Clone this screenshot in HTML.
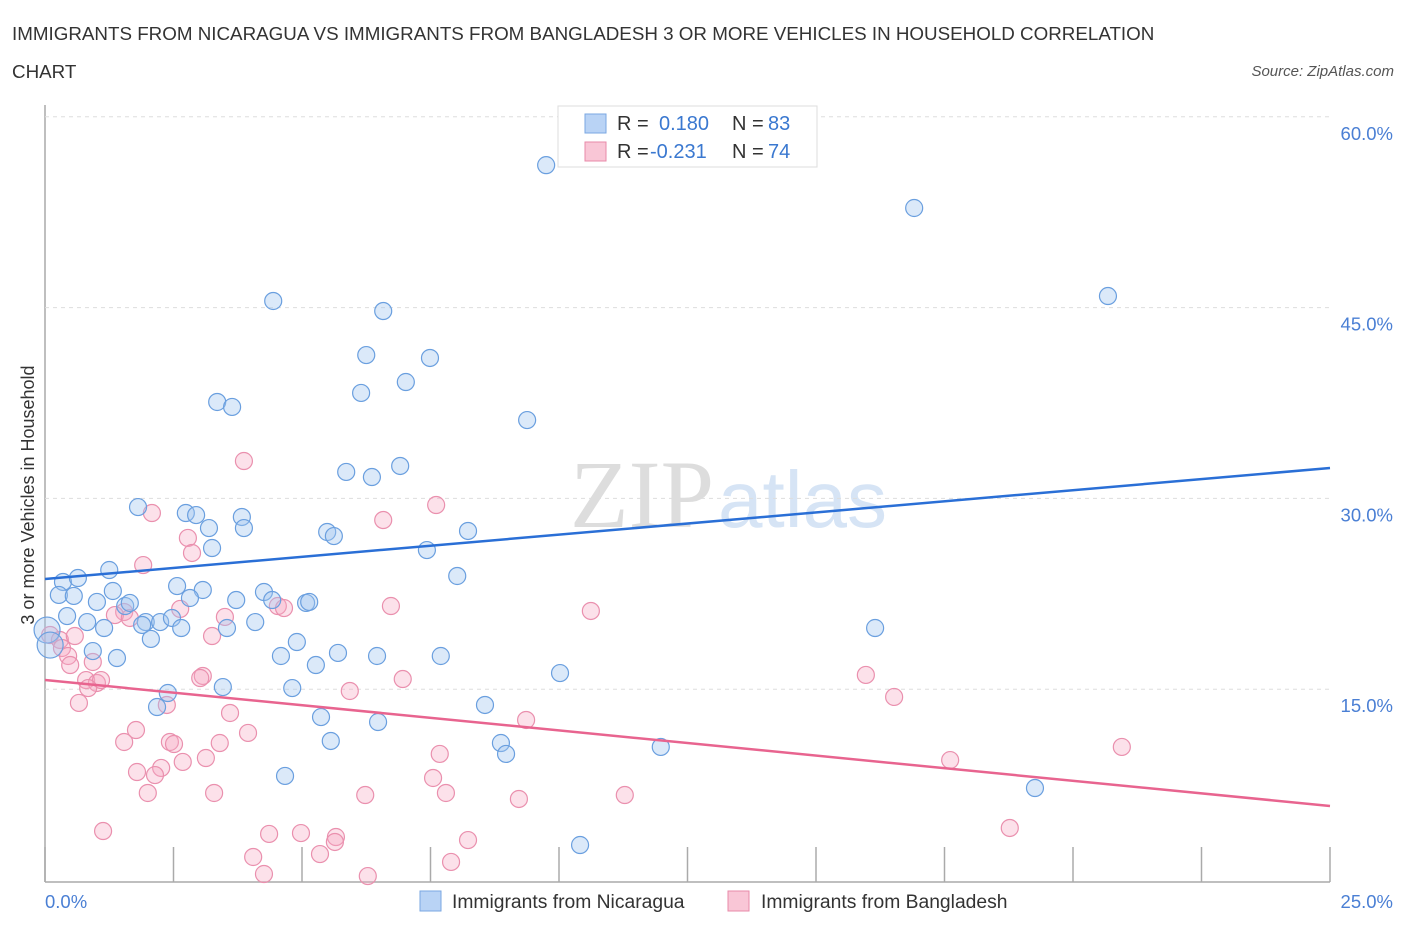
<!DOCTYPE html>
<html><head><meta charset="utf-8"><style>
body{margin:0;background:#fff;font-family:"Liberation Sans",sans-serif;}
</style></head><body>
<svg id="c" width="1406" height="930" xmlns="http://www.w3.org/2000/svg">
<text x="12" y="40" font-size="18.8" fill="#333">IMMIGRANTS FROM NICARAGUA VS IMMIGRANTS FROM BANGLADESH 3 OR MORE VEHICLES IN HOUSEHOLD CORRELATION</text>
<text x="12" y="78" font-size="18.8" fill="#333">CHART</text>
<text x="1394" y="76" font-size="15" fill="#555" font-style="italic" text-anchor="end">Source: ZipAtlas.com</text>
<text x="714" y="527" font-size="96" fill="#ddd" text-anchor="end" font-family="Liberation Serif,serif">ZIP</text>
<text x="718" y="527" font-size="80" fill="#d6e4f5">atlas</text>
<g id="grid"></g><g id="pts"></g><g id="lines"></g>
<text transform="translate(34,495) rotate(-90)" font-size="18" fill="#333" text-anchor="middle">3 or more Vehicles in Household</text>
<g>
<rect x="558" y="106" width="259" height="61" fill="#fff" stroke="#ddd"/>
<rect x="585" y="114" width="21" height="19" fill="#b9d3f5" stroke="#7aa7e2"/>
<text x="617" y="130" font-size="20" fill="#333">R =</text><text x="659" y="130" font-size="20" fill="#3a78d0">0.180</text>
<text x="732" y="130" font-size="20" fill="#333">N =</text><text x="768" y="130" font-size="20" fill="#3a78d0">83</text>
<rect x="585" y="142" width="21" height="19" fill="#f9c6d6" stroke="#e88aa8"/>
<text x="617" y="158" font-size="20" fill="#333">R =</text><text x="650" y="158" font-size="20" fill="#3a78d0">-0.231</text>
<text x="732" y="158" font-size="20" fill="#333">N =</text><text x="768" y="158" font-size="20" fill="#3a78d0">74</text>
</g>
<g>
<rect x="420" y="891" width="21" height="20" fill="#b9d3f5" stroke="#7aa7e2"/>
<text x="452" y="908" font-size="19.3" fill="#333">Immigrants from Nicaragua</text>
<rect x="728" y="891" width="21" height="20" fill="#f9c6d6" stroke="#e88aa8"/>
<text x="761" y="908" font-size="19.3" fill="#333">Immigrants from Bangladesh</text>
</g>
</svg>
<script>
const yTicks=[15,30,45,60];
const yTickLabels=["15.0%","30.0%","45.0%","60.0%"];
const xTicks=[0,2.5,5,7.5,10,12.5,15,17.5,20,22.5,25];
const xEndLabels=["0.0%","25.0%"];
const blueX=[9.75,16.91,20.68,4.44,6.58,6.25,7.49,6.15,7.02,3.35,3.64,9.38,5.86,6.36,6.91,1.81,2.74,2.94,3.83,3.19,3.87,5.49,5.62,8.23,3.25,7.43,1.25,0.35,0.64,8.02,2.57,3.07,1.32,0.27,0.56,1.01,1.56,1.65,2.82,3.72,4.26,4.42,5.08,5.14,0.43,1.96,2.24,2.47,0.82,1.15,1.89,2.65,3.54,4.09,2.06,4.90,16.15,0.04,0.93,1.40,4.59,5.70,6.46,7.70,5.27,10.02,2.39,2.18,3.46,4.81,5.37,6.48,8.56,8.87,8.97,5.56,11.98,4.67,19.26,10.41,0.10];
const blueY=[56.2,52.83,45.91,45.52,44.73,41.27,41.04,38.29,39.15,37.58,37.19,36.16,32.08,31.68,32.55,29.32,28.85,28.69,28.54,27.67,27.67,27.36,27.04,27.44,26.10,25.94,24.37,23.43,23.74,23.90,23.11,22.80,22.72,22.41,22.33,21.86,21.54,21.78,22.17,22.01,22.64,22.01,21.78,21.86,20.75,20.28,20.28,20.60,20.28,19.81,20.05,19.81,19.81,20.28,18.95,18.71,19.81,19.65,18.00,17.45,17.61,17.85,17.61,17.61,16.90,16.27,14.70,13.60,15.17,15.09,12.81,12.42,13.76,10.77,9.91,10.93,10.46,8.18,7.23,2.75,18.47];
const pinkX=[2.08,3.87,7.61,6.58,1.91,2.78,2.86,2.63,1.54,1.36,1.65,3.50,3.25,4.53,4.65,6.73,10.62,0.10,0.29,0.33,0.58,0.45,0.93,0.49,0.80,1.01,1.09,0.84,0.66,3.07,3.02,3.60,2.37,5.93,6.96,15.97,16.52,9.36,1.77,1.54,3.95,2.43,2.51,3.40,3.13,2.68,1.79,2.26,2.14,7.68,17.61,20.95,2.00,3.29,6.23,7.55,7.80,9.22,11.28,1.13,4.36,4.98,5.66,5.64,8.23,5.35,4.05,7.90,4.26,6.28,18.77];
const pinkY=[28.85,32.94,29.48,28.30,24.76,26.89,25.71,21.31,21.07,20.83,20.60,20.68,19.18,21.54,21.38,21.54,21.15,19.26,18.87,18.24,19.18,17.61,17.14,16.90,15.72,15.49,15.72,15.09,13.92,16.04,15.88,13.13,13.76,14.86,15.80,16.12,14.39,12.58,11.79,10.85,11.56,10.85,10.69,10.77,9.59,9.28,8.49,8.81,8.25,9.91,9.43,10.46,6.84,6.84,6.68,8.02,6.84,6.37,6.68,3.85,3.62,3.69,3.38,2.99,3.14,2.04,1.81,1.42,0.47,0.31,4.09];
const blueTrend=[23.66,32.39];
const pinkTrend=[15.72,5.82];
const NS="http://www.w3.org/2000/svg";
const X0=45,X1=1330,Y0=880,YS=12.72;
function sx(v){return X0+v/25*(X1-X0);}
function sy(v){return Y0-v*YS;}
function mk(t,a,p){const e=document.createElementNS(NS,t);for(const k in a)e.setAttribute(k,a[k]);p.appendChild(e);return e;}
const grid=document.getElementById('grid');
mk('line',{x1:45,y1:105,x2:45,y2:882,stroke:'#aaa','stroke-width':1.5},grid);
mk('line',{x1:45,y1:882,x2:1330,y2:882,stroke:'#aaa','stroke-width':1.5},grid);
yTicks.forEach((t,i)=>{
 const l=mk('line',{x1:45,x2:1330,y1:sy(t),y2:sy(t),stroke:'#ddd','stroke-dasharray':'4,4'},grid);
 
 
 const tx=mk('text',{x:1393,y:sy(t)+23,'font-size':18.5,fill:'#4a7fd4','text-anchor':'end'},grid);
 tx.textContent=yTickLabels[i];
 
 
});
xTicks.forEach(t=>{
 const l=mk('line',{x1:sx(t),x2:sx(t),y1:847,y2:882,stroke:'#aaa','stroke-width':1.5},grid);
 
 
});
const xl0=mk('text',{x:45,y:908,'font-size':18.5,fill:'#4a7fd4'},grid);xl0.textContent=xEndLabels[0];


const xl1=mk('text',{x:1393,y:908,'font-size':18.5,fill:'#4a7fd4','text-anchor':'end'},grid);xl1.textContent=xEndLabels[1];


const pts=document.getElementById('pts');
pinkX.forEach((x,i)=>{
 const c=mk('circle',{cx:sx(x),cy:sy(pinkY[i]),r:8.5,fill:'rgba(246,170,196,0.35)',stroke:'#ea90ae','stroke-width':1.2},pts);
 
 
});
blueX.forEach((x,i)=>{
 const big=(i>=blueX.length-1||i==57);
 const c=mk('circle',{cx:sx(x),cy:sy(blueY[i]),r:big?13:8.5,fill:'rgba(160,196,240,0.38)',stroke:'#6a9fdf','stroke-width':1.2},pts);
 
 
});
const lines=document.getElementById('lines');
const bl=mk('line',{x1:sx(0),y1:sy(blueTrend[0]),x2:sx(25),y2:sy(blueTrend[1]),stroke:'#2a6fd6','stroke-width':2.5},lines);


const pl=mk('line',{x1:sx(0),y1:sy(pinkTrend[0]),x2:sx(25),y2:sy(pinkTrend[1]),stroke:'#e8648f','stroke-width':2.5},lines);


</script>
</body></html>
